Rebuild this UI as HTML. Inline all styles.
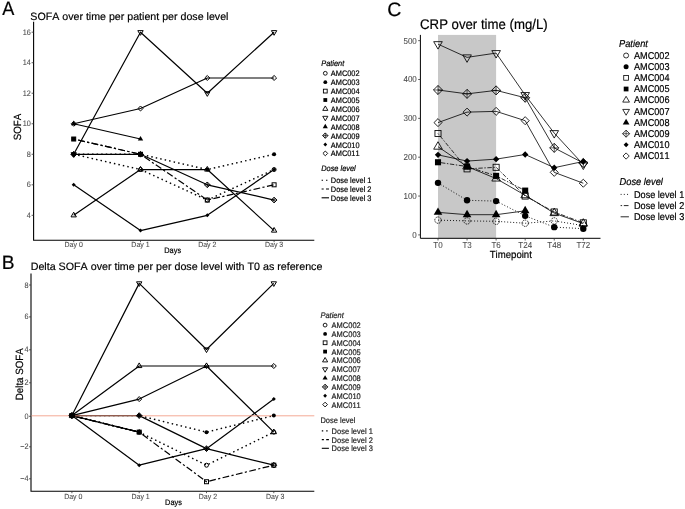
<!DOCTYPE html><html><head><meta charset="utf-8"><style>html,body{margin:0;padding:0;background:#fff;overflow:hidden}svg{display:block;will-change:transform}text{font-family:"Liberation Sans", sans-serif;font-kerning:none;text-rendering:geometricPrecision;stroke:currentColor;stroke-width:0.18px}</style></head><body>
<svg width="685" height="509" viewBox="0 0 685 509">
<rect width="685" height="509" fill="#fff"/>
<text transform="translate(2.3 14.6) scale(1 1.07)" font-size="18.1" text-anchor="start" fill="#000" color="#000">A</text>
<text transform="translate(30.3 19.7)" font-size="10.65" text-anchor="start" fill="#000" color="#000">SOFA over time per patient per dose level</text>
<path d="M33.6 21.7V240.2H314.3" fill="none" stroke="#000" stroke-width="1.1"/>
<line x1="31.6" y1="215.32" x2="33.6" y2="215.32" stroke="#333" stroke-width="0.8" stroke-linecap="butt"/>
<text transform="translate(30.8 217.82) scale(1 1.08)" font-size="7.3" text-anchor="end" fill="#4d4d4d" color="#4d4d4d" style="stroke-width:0.08px">4</text>
<line x1="31.6" y1="184.8" x2="33.6" y2="184.8" stroke="#333" stroke-width="0.8" stroke-linecap="butt"/>
<text transform="translate(30.8 187.3) scale(1 1.08)" font-size="7.3" text-anchor="end" fill="#4d4d4d" color="#4d4d4d" style="stroke-width:0.08px">6</text>
<line x1="31.6" y1="154.28" x2="33.6" y2="154.28" stroke="#333" stroke-width="0.8" stroke-linecap="butt"/>
<text transform="translate(30.8 156.78) scale(1 1.08)" font-size="7.3" text-anchor="end" fill="#4d4d4d" color="#4d4d4d" style="stroke-width:0.08px">8</text>
<line x1="31.6" y1="123.76" x2="33.6" y2="123.76" stroke="#333" stroke-width="0.8" stroke-linecap="butt"/>
<text transform="translate(30.8 126.26) scale(1 1.08)" font-size="7.3" text-anchor="end" fill="#4d4d4d" color="#4d4d4d" style="stroke-width:0.08px">10</text>
<line x1="31.6" y1="93.24" x2="33.6" y2="93.24" stroke="#333" stroke-width="0.8" stroke-linecap="butt"/>
<text transform="translate(30.8 95.74) scale(1 1.08)" font-size="7.3" text-anchor="end" fill="#4d4d4d" color="#4d4d4d" style="stroke-width:0.08px">12</text>
<line x1="31.6" y1="62.72" x2="33.6" y2="62.72" stroke="#333" stroke-width="0.8" stroke-linecap="butt"/>
<text transform="translate(30.8 65.22) scale(1 1.08)" font-size="7.3" text-anchor="end" fill="#4d4d4d" color="#4d4d4d" style="stroke-width:0.08px">14</text>
<line x1="31.6" y1="32.2" x2="33.6" y2="32.2" stroke="#333" stroke-width="0.8" stroke-linecap="butt"/>
<text transform="translate(30.8 34.7) scale(1 1.08)" font-size="7.3" text-anchor="end" fill="#4d4d4d" color="#4d4d4d" style="stroke-width:0.08px">16</text>
<line x1="73.7" y1="240.2" x2="73.7" y2="242.2" stroke="#333" stroke-width="0.8" stroke-linecap="butt"/>
<text transform="translate(73.7 247.3) scale(1 1.08)" font-size="7" text-anchor="middle" fill="#4d4d4d" color="#4d4d4d" style="stroke-width:0.08px">Day 0</text>
<line x1="140.5" y1="240.2" x2="140.5" y2="242.2" stroke="#333" stroke-width="0.8" stroke-linecap="butt"/>
<text transform="translate(140.5 247.3) scale(1 1.08)" font-size="7" text-anchor="middle" fill="#4d4d4d" color="#4d4d4d" style="stroke-width:0.08px">Day 1</text>
<line x1="207.3" y1="240.2" x2="207.3" y2="242.2" stroke="#333" stroke-width="0.8" stroke-linecap="butt"/>
<text transform="translate(207.3 247.3) scale(1 1.08)" font-size="7" text-anchor="middle" fill="#4d4d4d" color="#4d4d4d" style="stroke-width:0.08px">Day 2</text>
<line x1="274.1" y1="240.2" x2="274.1" y2="242.2" stroke="#333" stroke-width="0.8" stroke-linecap="butt"/>
<text transform="translate(274.1 247.3) scale(1 1.08)" font-size="7" text-anchor="middle" fill="#4d4d4d" color="#4d4d4d" style="stroke-width:0.08px">Day 3</text>
<text transform="translate(172.7 252.9) scale(1 1.08)" font-size="7.4" text-anchor="middle" fill="#000" color="#000">Days</text>
<text transform="translate(21 127.1) rotate(-90) scale(1 1.08)" font-size="9.7" text-anchor="middle" fill="#000" color="#000">SOFA</text>
<polyline points="73.7,154.28 140.5,169.54 207.3,200.06 274.1,169.54" fill="none" stroke="#000" stroke-width="1.44" stroke-linejoin="round" stroke-dasharray="1.49 3.09"/>
<polyline points="73.7,154.28 140.5,154.28 207.3,169.54 274.1,154.28" fill="none" stroke="#000" stroke-width="1.44" stroke-linejoin="round" stroke-dasharray="1.49 3.09"/>
<polyline points="73.7,139.02 140.5,154.28 207.3,200.06 274.1,184.8" fill="none" stroke="#000" stroke-width="1.2" stroke-linejoin="round" stroke-dasharray="2.18 2.4 6.76 2.4"/>
<polyline points="73.7,139.02 140.5,154.28" fill="none" stroke="#000" stroke-width="1.2" stroke-linejoin="round" stroke-dasharray="2.18 2.4 6.76 2.4"/>
<polyline points="73.7,215.32 140.5,169.54 207.3,169.54 274.1,230.58" fill="none" stroke="#000" stroke-width="1.2" stroke-linejoin="round"/>
<polyline points="73.7,154.28 140.5,32.2 207.3,93.24 274.1,32.2" fill="none" stroke="#000" stroke-width="1.2" stroke-linejoin="round"/>
<polyline points="73.7,123.76 140.5,139.02" fill="none" stroke="#000" stroke-width="1.2" stroke-linejoin="round"/>
<polyline points="73.7,154.28 140.5,154.28 207.3,184.8 274.1,200.06" fill="none" stroke="#000" stroke-width="1.2" stroke-linejoin="round"/>
<polyline points="73.7,184.8 140.5,230.58 207.3,215.32 274.1,169.54" fill="none" stroke="#000" stroke-width="1.2" stroke-linejoin="round"/>
<polyline points="73.7,123.76 140.5,108.5 207.3,77.98 274.1,77.98" fill="none" stroke="#000" stroke-width="1.2" stroke-linejoin="round"/>
<circle cx="73.7" cy="154.28" r="2" fill="none" stroke="#000" stroke-width="1"/>
<circle cx="140.5" cy="169.54" r="2" fill="none" stroke="#000" stroke-width="1"/>
<circle cx="207.3" cy="200.06" r="2" fill="none" stroke="#000" stroke-width="1"/>
<circle cx="274.1" cy="169.54" r="2" fill="none" stroke="#000" stroke-width="1"/>
<circle cx="73.7" cy="154.28" r="2" fill="#000"/>
<circle cx="140.5" cy="154.28" r="2" fill="#000"/>
<circle cx="207.3" cy="169.54" r="2" fill="#000"/>
<circle cx="274.1" cy="154.28" r="2" fill="#000"/>
<rect x="71.7" y="137.02" width="4" height="4" fill="none" stroke="#000" stroke-width="1"/>
<rect x="138.5" y="152.28" width="4" height="4" fill="none" stroke="#000" stroke-width="1"/>
<rect x="205.3" y="198.06" width="4" height="4" fill="none" stroke="#000" stroke-width="1"/>
<rect x="272.1" y="182.8" width="4" height="4" fill="none" stroke="#000" stroke-width="1"/>
<rect x="71.7" y="137.02" width="4" height="4" fill="#000"/>
<rect x="138.5" y="152.28" width="4" height="4" fill="#000"/>
<polygon points="73.7,212.21 76.39,216.88 71.01,216.88" fill="none" stroke="#000" stroke-width="1" stroke-linejoin="miter"/>
<polygon points="140.5,166.43 143.19,171.1 137.81,171.1" fill="none" stroke="#000" stroke-width="1" stroke-linejoin="miter"/>
<polygon points="207.3,166.43 209.99,171.1 204.61,171.1" fill="none" stroke="#000" stroke-width="1" stroke-linejoin="miter"/>
<polygon points="274.1,227.47 276.79,232.14 271.41,232.14" fill="none" stroke="#000" stroke-width="1" stroke-linejoin="miter"/>
<polygon points="73.7,157.39 76.39,152.72 71.01,152.72" fill="none" stroke="#000" stroke-width="1" stroke-linejoin="miter"/>
<polygon points="140.5,35.31 143.19,30.64 137.81,30.64" fill="none" stroke="#000" stroke-width="1" stroke-linejoin="miter"/>
<polygon points="207.3,96.35 209.99,91.68 204.61,91.68" fill="none" stroke="#000" stroke-width="1" stroke-linejoin="miter"/>
<polygon points="274.1,35.31 276.79,30.64 271.41,30.64" fill="none" stroke="#000" stroke-width="1" stroke-linejoin="miter"/>
<polygon points="73.7,120.65 76.39,125.32 71.01,125.32" fill="#000"/>
<polygon points="140.5,135.91 143.19,140.58 137.81,140.58" fill="#000"/>
<polygon points="73.7,151.45 76.53,154.28 73.7,157.11 70.87,154.28" fill="none" stroke="#000" stroke-width="1"/>
<path d="M73.7 151.45V157.11M70.87 154.28H76.53" stroke="#000" stroke-width="0.75" fill="none"/>
<polygon points="140.5,151.45 143.33,154.28 140.5,157.11 137.67,154.28" fill="none" stroke="#000" stroke-width="1"/>
<path d="M140.5 151.45V157.11M137.67 154.28H143.33" stroke="#000" stroke-width="0.75" fill="none"/>
<polygon points="207.3,181.97 210.13,184.8 207.3,187.63 204.47,184.8" fill="none" stroke="#000" stroke-width="1"/>
<path d="M207.3 181.97V187.63M204.47 184.8H210.13" stroke="#000" stroke-width="0.75" fill="none"/>
<polygon points="274.1,197.23 276.93,200.06 274.1,202.89 271.27,200.06" fill="none" stroke="#000" stroke-width="1"/>
<path d="M274.1 197.23V202.89M271.27 200.06H276.93" stroke="#000" stroke-width="0.75" fill="none"/>
<polygon points="73.7,182.8 75.7,184.8 73.7,186.8 71.7,184.8" fill="#000"/>
<polygon points="140.5,228.58 142.5,230.58 140.5,232.58 138.5,230.58" fill="#000"/>
<polygon points="207.3,213.32 209.3,215.32 207.3,217.32 205.3,215.32" fill="#000"/>
<polygon points="274.1,167.54 276.1,169.54 274.1,171.54 272.1,169.54" fill="#000"/>
<polygon points="73.7,121.25 76.21,123.76 73.7,126.27 71.19,123.76" fill="none" stroke="#000" stroke-width="1"/>
<polygon points="140.5,105.99 143.01,108.5 140.5,111.01 137.99,108.5" fill="none" stroke="#000" stroke-width="1"/>
<polygon points="207.3,75.47 209.81,77.98 207.3,80.49 204.79,77.98" fill="none" stroke="#000" stroke-width="1"/>
<polygon points="274.1,75.47 276.61,77.98 274.1,80.49 271.59,77.98" fill="none" stroke="#000" stroke-width="1"/>
<text transform="translate(321.2 65.7) scale(1 1.08)" font-size="7.4" text-anchor="start" fill="#000" color="#000" font-style="italic">Patient</text>
<circle cx="325.3" cy="73.3" r="1.9" fill="none" stroke="#000" stroke-width="0.9"/>
<text transform="translate(330.8 76.39) scale(1 1.08)" font-size="7.4" text-anchor="start" fill="#000" color="#000">AMC002</text>
<circle cx="325.3" cy="82.2" r="1.9" fill="#000"/>
<text transform="translate(330.8 85.29) scale(1 1.08)" font-size="7.4" text-anchor="start" fill="#000" color="#000">AMC003</text>
<rect x="323.4" y="89.2" width="3.8" height="3.8" fill="none" stroke="#000" stroke-width="0.9"/>
<text transform="translate(330.8 94.19) scale(1 1.08)" font-size="7.4" text-anchor="start" fill="#000" color="#000">AMC004</text>
<rect x="323.4" y="98.1" width="3.8" height="3.8" fill="#000"/>
<text transform="translate(330.8 103.09) scale(1 1.08)" font-size="7.4" text-anchor="start" fill="#000" color="#000">AMC005</text>
<polygon points="325.3,105.95 327.86,110.38 322.74,110.38" fill="none" stroke="#000" stroke-width="0.9" stroke-linejoin="miter"/>
<text transform="translate(330.8 111.99) scale(1 1.08)" font-size="7.4" text-anchor="start" fill="#000" color="#000">AMC006</text>
<polygon points="325.3,120.75 327.86,116.32 322.74,116.32" fill="none" stroke="#000" stroke-width="0.9" stroke-linejoin="miter"/>
<text transform="translate(330.8 120.89) scale(1 1.08)" font-size="7.4" text-anchor="start" fill="#000" color="#000">AMC007</text>
<polygon points="325.3,123.75 327.86,128.18 322.74,128.18" fill="#000"/>
<text transform="translate(330.8 129.79) scale(1 1.08)" font-size="7.4" text-anchor="start" fill="#000" color="#000">AMC008</text>
<polygon points="325.3,132.91 327.99,135.6 325.3,138.29 322.61,135.6" fill="none" stroke="#000" stroke-width="0.9"/>
<path d="M325.3 132.91V138.29M322.61 135.6H327.99" stroke="#000" stroke-width="0.68" fill="none"/>
<text transform="translate(330.8 138.69) scale(1 1.08)" font-size="7.4" text-anchor="start" fill="#000" color="#000">AMC009</text>
<polygon points="325.3,142.6 327.2,144.5 325.3,146.4 323.4,144.5" fill="#000"/>
<text transform="translate(330.8 147.59) scale(1 1.08)" font-size="7.4" text-anchor="start" fill="#000" color="#000">AMC010</text>
<polygon points="325.3,151.02 327.68,153.4 325.3,155.78 322.92,153.4" fill="none" stroke="#000" stroke-width="0.9"/>
<text transform="translate(330.8 156.49) scale(1 1.08)" font-size="7.4" text-anchor="start" fill="#000" color="#000">AMC011</text>
<text transform="translate(321.2 171.3) scale(1 1.08)" font-size="7.4" text-anchor="start" fill="#000" color="#000" font-style="italic">Dose level</text>
<line x1="321.6" y1="180.3" x2="329" y2="180.3" stroke="#000" stroke-width="1.1" stroke-linecap="butt" stroke-dasharray="1.43 2.97"/>
<text transform="translate(330.8 183.39) scale(1 1.08)" font-size="7.4" text-anchor="start" fill="#000" color="#000">Dose level 1</text>
<line x1="321.6" y1="189.05" x2="329" y2="189.05" stroke="#000" stroke-width="1.1" stroke-linecap="butt" stroke-dasharray="2.09 2.31 6.49 2.31"/>
<text transform="translate(330.8 192.14) scale(1 1.08)" font-size="7.4" text-anchor="start" fill="#000" color="#000">Dose level 2</text>
<line x1="321.6" y1="197.8" x2="329" y2="197.8" stroke="#000" stroke-width="1.1" stroke-linecap="butt"/>
<text transform="translate(330.8 200.89) scale(1 1.08)" font-size="7.4" text-anchor="start" fill="#000" color="#000">Dose level 3</text>
<text transform="translate(1.7 268.6) scale(1 1.01)" font-size="19.2" text-anchor="start" fill="#000" color="#000">B</text>
<text transform="translate(30.7 269.7)" font-size="10.7" text-anchor="start" fill="#000" color="#000">Delta SOFA over time per per dose level with T0 as reference</text>
<path d="M31 273.5V491.2H314.3" fill="none" stroke="#000" stroke-width="1.1"/>
<line x1="29" y1="478.8" x2="31" y2="478.8" stroke="#333" stroke-width="0.8" stroke-linecap="butt"/>
<text transform="translate(28.5 481.3) scale(1 1.08)" font-size="7.3" text-anchor="end" fill="#4d4d4d" color="#4d4d4d" style="stroke-width:0.08px">−4</text>
<line x1="29" y1="446.8" x2="31" y2="446.8" stroke="#333" stroke-width="0.8" stroke-linecap="butt"/>
<text transform="translate(28.5 449.3) scale(1 1.08)" font-size="7.3" text-anchor="end" fill="#4d4d4d" color="#4d4d4d" style="stroke-width:0.08px">−2</text>
<line x1="29" y1="416.3" x2="31" y2="416.3" stroke="#333" stroke-width="0.8" stroke-linecap="butt"/>
<text transform="translate(28.5 418.8) scale(1 1.08)" font-size="7.3" text-anchor="end" fill="#4d4d4d" color="#4d4d4d" style="stroke-width:0.08px">0</text>
<line x1="29" y1="382.8" x2="31" y2="382.8" stroke="#333" stroke-width="0.8" stroke-linecap="butt"/>
<text transform="translate(28.5 385.3) scale(1 1.08)" font-size="7.3" text-anchor="end" fill="#4d4d4d" color="#4d4d4d" style="stroke-width:0.08px">2</text>
<line x1="29" y1="349.8" x2="31" y2="349.8" stroke="#333" stroke-width="0.8" stroke-linecap="butt"/>
<text transform="translate(28.5 352.3) scale(1 1.08)" font-size="7.3" text-anchor="end" fill="#4d4d4d" color="#4d4d4d" style="stroke-width:0.08px">4</text>
<line x1="29" y1="316.9" x2="31" y2="316.9" stroke="#333" stroke-width="0.8" stroke-linecap="butt"/>
<text transform="translate(28.5 319.4) scale(1 1.08)" font-size="7.3" text-anchor="end" fill="#4d4d4d" color="#4d4d4d" style="stroke-width:0.08px">6</text>
<line x1="29" y1="285" x2="31" y2="285" stroke="#333" stroke-width="0.8" stroke-linecap="butt"/>
<text transform="translate(28.5 287.5) scale(1 1.08)" font-size="7.3" text-anchor="end" fill="#4d4d4d" color="#4d4d4d" style="stroke-width:0.08px">8</text>
<line x1="71.9" y1="491.2" x2="71.9" y2="493.2" stroke="#333" stroke-width="0.8" stroke-linecap="butt"/>
<text transform="translate(73.3 498.8) scale(1 1.08)" font-size="7" text-anchor="middle" fill="#4d4d4d" color="#4d4d4d" style="stroke-width:0.08px">Day 0</text>
<line x1="139.2" y1="491.2" x2="139.2" y2="493.2" stroke="#333" stroke-width="0.8" stroke-linecap="butt"/>
<text transform="translate(140.6 498.8) scale(1 1.08)" font-size="7" text-anchor="middle" fill="#4d4d4d" color="#4d4d4d" style="stroke-width:0.08px">Day 1</text>
<line x1="206.5" y1="491.2" x2="206.5" y2="493.2" stroke="#333" stroke-width="0.8" stroke-linecap="butt"/>
<text transform="translate(207.9 498.8) scale(1 1.08)" font-size="7" text-anchor="middle" fill="#4d4d4d" color="#4d4d4d" style="stroke-width:0.08px">Day 2</text>
<line x1="273.8" y1="491.2" x2="273.8" y2="493.2" stroke="#333" stroke-width="0.8" stroke-linecap="butt"/>
<text transform="translate(275.2 498.8) scale(1 1.08)" font-size="7" text-anchor="middle" fill="#4d4d4d" color="#4d4d4d" style="stroke-width:0.08px">Day 3</text>
<text transform="translate(173.5 505) scale(1 1.08)" font-size="7.4" text-anchor="middle" fill="#000" color="#000">Days</text>
<text transform="translate(23 374.2) rotate(-90) scale(1 1.08)" font-size="9.75" text-anchor="middle" fill="#000" color="#000">Delta SOFA</text>
<polyline points="71.9,415.6 139.2,432.13 206.5,465.19 273.8,432.13" fill="none" stroke="#000" stroke-width="1.44" stroke-linejoin="round" stroke-dasharray="1.49 3.09"/>
<polyline points="71.9,415.6 139.2,415.6 206.5,432.13 273.8,415.6" fill="none" stroke="#000" stroke-width="1.44" stroke-linejoin="round" stroke-dasharray="1.49 3.09"/>
<polyline points="71.9,415.6 139.2,432.13 206.5,481.72 273.8,465.19" fill="none" stroke="#000" stroke-width="1.2" stroke-linejoin="round" stroke-dasharray="2.18 2.4 6.76 2.4"/>
<polyline points="71.9,415.6 139.2,432.13" fill="none" stroke="#000" stroke-width="1.2" stroke-linejoin="round" stroke-dasharray="2.18 2.4 6.76 2.4"/>
<polyline points="71.9,415.6 139.2,366.01 206.5,366.01 273.8,432.13" fill="none" stroke="#000" stroke-width="1.2" stroke-linejoin="round"/>
<polyline points="71.9,415.6 139.2,283.36 206.5,349.48 273.8,283.36" fill="none" stroke="#000" stroke-width="1.2" stroke-linejoin="round"/>
<polyline points="71.9,415.6 139.2,432.13" fill="none" stroke="#000" stroke-width="1.2" stroke-linejoin="round"/>
<polyline points="71.9,415.6 139.2,415.6 206.5,448.66 273.8,465.19" fill="none" stroke="#000" stroke-width="1.2" stroke-linejoin="round"/>
<polyline points="71.9,415.6 139.2,465.19 206.5,448.66 273.8,399.07" fill="none" stroke="#000" stroke-width="1.2" stroke-linejoin="round"/>
<polyline points="71.9,415.6 139.2,399.07 206.5,366.01 273.8,366.01" fill="none" stroke="#000" stroke-width="1.2" stroke-linejoin="round"/>
<line x1="31.5" y1="415.8" x2="314.3" y2="415.8" stroke="#f39c85" stroke-width="0.95" opacity="0.9"/>
<circle cx="71.9" cy="415.6" r="2" fill="none" stroke="#000" stroke-width="1"/>
<circle cx="139.2" cy="432.13" r="2" fill="none" stroke="#000" stroke-width="1"/>
<circle cx="206.5" cy="465.19" r="2" fill="none" stroke="#000" stroke-width="1"/>
<circle cx="273.8" cy="432.13" r="2" fill="none" stroke="#000" stroke-width="1"/>
<circle cx="71.9" cy="415.6" r="2" fill="#000"/>
<circle cx="139.2" cy="415.6" r="2" fill="#000"/>
<circle cx="206.5" cy="432.13" r="2" fill="#000"/>
<circle cx="273.8" cy="415.6" r="2" fill="#000"/>
<rect x="69.9" y="413.6" width="4" height="4" fill="none" stroke="#000" stroke-width="1"/>
<rect x="137.2" y="430.13" width="4" height="4" fill="none" stroke="#000" stroke-width="1"/>
<rect x="204.5" y="479.72" width="4" height="4" fill="none" stroke="#000" stroke-width="1"/>
<rect x="271.8" y="463.19" width="4" height="4" fill="none" stroke="#000" stroke-width="1"/>
<rect x="69.9" y="413.6" width="4" height="4" fill="#000"/>
<rect x="137.2" y="430.13" width="4" height="4" fill="#000"/>
<polygon points="71.9,412.49 74.59,417.16 69.21,417.16" fill="none" stroke="#000" stroke-width="1" stroke-linejoin="miter"/>
<polygon points="139.2,362.9 141.89,367.57 136.51,367.57" fill="none" stroke="#000" stroke-width="1" stroke-linejoin="miter"/>
<polygon points="206.5,362.9 209.19,367.57 203.81,367.57" fill="none" stroke="#000" stroke-width="1" stroke-linejoin="miter"/>
<polygon points="273.8,429.02 276.49,433.69 271.11,433.69" fill="none" stroke="#000" stroke-width="1" stroke-linejoin="miter"/>
<polygon points="71.9,418.71 74.59,414.04 69.21,414.04" fill="none" stroke="#000" stroke-width="1" stroke-linejoin="miter"/>
<polygon points="139.2,286.47 141.89,281.8 136.51,281.8" fill="none" stroke="#000" stroke-width="1" stroke-linejoin="miter"/>
<polygon points="206.5,352.59 209.19,347.92 203.81,347.92" fill="none" stroke="#000" stroke-width="1" stroke-linejoin="miter"/>
<polygon points="273.8,286.47 276.49,281.8 271.11,281.8" fill="none" stroke="#000" stroke-width="1" stroke-linejoin="miter"/>
<polygon points="71.9,412.49 74.59,417.16 69.21,417.16" fill="#000"/>
<polygon points="139.2,429.02 141.89,433.69 136.51,433.69" fill="#000"/>
<polygon points="71.9,412.77 74.73,415.6 71.9,418.43 69.07,415.6" fill="none" stroke="#000" stroke-width="1"/>
<path d="M71.9 412.77V418.43M69.07 415.6H74.73" stroke="#000" stroke-width="0.75" fill="none"/>
<polygon points="139.2,412.77 142.03,415.6 139.2,418.43 136.37,415.6" fill="none" stroke="#000" stroke-width="1"/>
<path d="M139.2 412.77V418.43M136.37 415.6H142.03" stroke="#000" stroke-width="0.75" fill="none"/>
<polygon points="206.5,445.83 209.33,448.66 206.5,451.49 203.67,448.66" fill="none" stroke="#000" stroke-width="1"/>
<path d="M206.5 445.83V451.49M203.67 448.66H209.33" stroke="#000" stroke-width="0.75" fill="none"/>
<polygon points="273.8,462.36 276.63,465.19 273.8,468.02 270.97,465.19" fill="none" stroke="#000" stroke-width="1"/>
<path d="M273.8 462.36V468.02M270.97 465.19H276.63" stroke="#000" stroke-width="0.75" fill="none"/>
<polygon points="71.9,413.6 73.9,415.6 71.9,417.6 69.9,415.6" fill="#000"/>
<polygon points="139.2,463.19 141.2,465.19 139.2,467.19 137.2,465.19" fill="#000"/>
<polygon points="206.5,446.66 208.5,448.66 206.5,450.66 204.5,448.66" fill="#000"/>
<polygon points="273.8,397.07 275.8,399.07 273.8,401.07 271.8,399.07" fill="#000"/>
<polygon points="71.9,413.09 74.41,415.6 71.9,418.11 69.39,415.6" fill="none" stroke="#000" stroke-width="1"/>
<polygon points="139.2,396.56 141.71,399.07 139.2,401.58 136.69,399.07" fill="none" stroke="#000" stroke-width="1"/>
<polygon points="206.5,363.5 209.01,366.01 206.5,368.52 203.99,366.01" fill="none" stroke="#000" stroke-width="1"/>
<polygon points="273.8,363.5 276.31,366.01 273.8,368.52 271.29,366.01" fill="none" stroke="#000" stroke-width="1"/>
<text transform="translate(320.4 318.2) scale(1 1.08)" font-size="7.5" text-anchor="start" fill="#222" color="#222" font-style="italic">Patient</text>
<circle cx="325.1" cy="325.1" r="1.9" fill="none" stroke="#000" stroke-width="0.9"/>
<text transform="translate(331.6 328.12) scale(1 1.08)" font-size="7.5" text-anchor="start" fill="#222" color="#222">AMC002</text>
<circle cx="325.1" cy="333.93" r="1.9" fill="#000"/>
<text transform="translate(331.6 336.95) scale(1 1.08)" font-size="7.5" text-anchor="start" fill="#222" color="#222">AMC003</text>
<rect x="323.2" y="340.86" width="3.8" height="3.8" fill="none" stroke="#000" stroke-width="0.9"/>
<text transform="translate(331.6 345.79) scale(1 1.08)" font-size="7.5" text-anchor="start" fill="#222" color="#222">AMC004</text>
<rect x="323.2" y="349.69" width="3.8" height="3.8" fill="#000"/>
<text transform="translate(331.6 354.62) scale(1 1.08)" font-size="7.5" text-anchor="start" fill="#222" color="#222">AMC005</text>
<polygon points="325.1,357.47 327.66,361.9 322.54,361.9" fill="none" stroke="#000" stroke-width="0.9" stroke-linejoin="miter"/>
<text transform="translate(331.6 363.44) scale(1 1.08)" font-size="7.5" text-anchor="start" fill="#222" color="#222">AMC006</text>
<polygon points="325.1,372.2 327.66,367.77 322.54,367.77" fill="none" stroke="#000" stroke-width="0.9" stroke-linejoin="miter"/>
<text transform="translate(331.6 372.27) scale(1 1.08)" font-size="7.5" text-anchor="start" fill="#222" color="#222">AMC007</text>
<polygon points="325.1,375.13 327.66,379.56 322.54,379.56" fill="#000"/>
<text transform="translate(331.6 381.11) scale(1 1.08)" font-size="7.5" text-anchor="start" fill="#222" color="#222">AMC008</text>
<polygon points="325.1,384.22 327.79,386.91 325.1,389.6 322.41,386.91" fill="none" stroke="#000" stroke-width="0.9"/>
<path d="M325.1 384.22V389.6M322.41 386.91H327.79" stroke="#000" stroke-width="0.68" fill="none"/>
<text transform="translate(331.6 389.94) scale(1 1.08)" font-size="7.5" text-anchor="start" fill="#222" color="#222">AMC009</text>
<polygon points="325.1,393.84 327,395.74 325.1,397.64 323.2,395.74" fill="#000"/>
<text transform="translate(331.6 398.76) scale(1 1.08)" font-size="7.5" text-anchor="start" fill="#222" color="#222">AMC010</text>
<polygon points="325.1,402.19 327.48,404.57 325.1,406.95 322.72,404.57" fill="none" stroke="#000" stroke-width="0.9"/>
<text transform="translate(331.6 407.6) scale(1 1.08)" font-size="7.5" text-anchor="start" fill="#222" color="#222">AMC011</text>
<text transform="translate(320.4 422.6) scale(1 1.08)" font-size="7.5" text-anchor="start" fill="#222" color="#222">Dose level</text>
<line x1="321.8" y1="430.9" x2="328.9" y2="430.9" stroke="#000" stroke-width="1.1" stroke-linecap="butt" stroke-dasharray="1.43 2.97"/>
<text transform="translate(331.6 433.92) scale(1 1.08)" font-size="7.5" text-anchor="start" fill="#222" color="#222">Dose level 1</text>
<line x1="321.8" y1="439.6" x2="328.9" y2="439.6" stroke="#000" stroke-width="1.1" stroke-linecap="butt" stroke-dasharray="2.09 2.31 6.49 2.31"/>
<text transform="translate(331.6 442.62) scale(1 1.08)" font-size="7.5" text-anchor="start" fill="#222" color="#222">Dose level 2</text>
<line x1="321.8" y1="448.3" x2="328.9" y2="448.3" stroke="#000" stroke-width="1.1" stroke-linecap="butt"/>
<text transform="translate(331.6 451.32) scale(1 1.08)" font-size="7.5" text-anchor="start" fill="#222" color="#222">Dose level 3</text>
<text transform="translate(387.3 16.1)" font-size="19.5" text-anchor="start" fill="#000" color="#000">C</text>
<text transform="translate(420.1 28.6) scale(1 1.06)" font-size="13.2" text-anchor="start" fill="#000" color="#000">CRP over time (mg/L)</text>
<rect x="438" y="34.9" width="58.12" height="203.4" fill="#c8c8c8"/>
<path d="M420.4 34.9V238.3H600.5" fill="none" stroke="#000" stroke-width="1"/>
<line x1="418.2" y1="234.9" x2="420.4" y2="234.9" stroke="#333" stroke-width="0.8" stroke-linecap="butt"/>
<text transform="translate(416.8 237.8) scale(1 1.08)" font-size="8" text-anchor="end" fill="#4d4d4d" color="#4d4d4d" style="stroke-width:0.08px">0</text>
<line x1="418.2" y1="196.05" x2="420.4" y2="196.05" stroke="#333" stroke-width="0.8" stroke-linecap="butt"/>
<text transform="translate(416.8 198.95) scale(1 1.08)" font-size="8" text-anchor="end" fill="#4d4d4d" color="#4d4d4d" style="stroke-width:0.08px">100</text>
<line x1="418.2" y1="157.2" x2="420.4" y2="157.2" stroke="#333" stroke-width="0.8" stroke-linecap="butt"/>
<text transform="translate(416.8 160.1) scale(1 1.08)" font-size="8" text-anchor="end" fill="#4d4d4d" color="#4d4d4d" style="stroke-width:0.08px">200</text>
<line x1="418.2" y1="118.35" x2="420.4" y2="118.35" stroke="#333" stroke-width="0.8" stroke-linecap="butt"/>
<text transform="translate(416.8 121.25) scale(1 1.08)" font-size="8" text-anchor="end" fill="#4d4d4d" color="#4d4d4d" style="stroke-width:0.08px">300</text>
<line x1="418.2" y1="79.5" x2="420.4" y2="79.5" stroke="#333" stroke-width="0.8" stroke-linecap="butt"/>
<text transform="translate(416.8 82.4) scale(1 1.08)" font-size="8" text-anchor="end" fill="#4d4d4d" color="#4d4d4d" style="stroke-width:0.08px">400</text>
<line x1="418.2" y1="40.65" x2="420.4" y2="40.65" stroke="#333" stroke-width="0.8" stroke-linecap="butt"/>
<text transform="translate(416.8 43.55) scale(1 1.08)" font-size="8" text-anchor="end" fill="#4d4d4d" color="#4d4d4d" style="stroke-width:0.08px">500</text>
<line x1="438" y1="238.3" x2="438" y2="240.5" stroke="#333" stroke-width="0.8" stroke-linecap="butt"/>
<text transform="translate(438 247.8) scale(1 1.08)" font-size="8" text-anchor="middle" fill="#4d4d4d" color="#4d4d4d" style="stroke-width:0.08px">T0</text>
<line x1="467.06" y1="238.3" x2="467.06" y2="240.5" stroke="#333" stroke-width="0.8" stroke-linecap="butt"/>
<text transform="translate(467.06 247.8) scale(1 1.08)" font-size="8" text-anchor="middle" fill="#4d4d4d" color="#4d4d4d" style="stroke-width:0.08px">T3</text>
<line x1="496.12" y1="238.3" x2="496.12" y2="240.5" stroke="#333" stroke-width="0.8" stroke-linecap="butt"/>
<text transform="translate(496.12 247.8) scale(1 1.08)" font-size="8" text-anchor="middle" fill="#4d4d4d" color="#4d4d4d" style="stroke-width:0.08px">T6</text>
<line x1="525.18" y1="238.3" x2="525.18" y2="240.5" stroke="#333" stroke-width="0.8" stroke-linecap="butt"/>
<text transform="translate(525.18 247.8) scale(1 1.08)" font-size="8" text-anchor="middle" fill="#4d4d4d" color="#4d4d4d" style="stroke-width:0.08px">T24</text>
<line x1="554.24" y1="238.3" x2="554.24" y2="240.5" stroke="#333" stroke-width="0.8" stroke-linecap="butt"/>
<text transform="translate(554.24 247.8) scale(1 1.08)" font-size="8" text-anchor="middle" fill="#4d4d4d" color="#4d4d4d" style="stroke-width:0.08px">T48</text>
<line x1="583.3" y1="238.3" x2="583.3" y2="240.5" stroke="#333" stroke-width="0.8" stroke-linecap="butt"/>
<text transform="translate(583.3 247.8) scale(1 1.08)" font-size="8" text-anchor="middle" fill="#4d4d4d" color="#4d4d4d" style="stroke-width:0.08px">T72</text>
<text transform="translate(510.8 258.4) scale(1 1.08)" font-size="9.6" text-anchor="middle" fill="#000" color="#000">Timepoint</text>
<polyline points="438,220.14 467.06,220.91 496.12,221.3 525.18,223.25 554.24,220.91 583.3,225.58" fill="none" stroke="#000" stroke-width="0.9" stroke-linejoin="round" stroke-dasharray="0.98 2.03"/>
<polyline points="438,182.84 467.06,200.32 496.12,201.1 525.18,215.86 554.24,227.13 583.3,228.68" fill="none" stroke="#000" stroke-width="0.9" stroke-linejoin="round" stroke-dasharray="0.98 2.03"/>
<polyline points="438,133.5 467.06,168.86 496.12,167.3 525.18,196.05 554.24,211.98 583.3,222.86" fill="none" stroke="#000" stroke-width="0.8" stroke-linejoin="round" stroke-dasharray="1.42 1.58 4.43 1.58"/>
<polyline points="438,162.25 467.06,166.52 496.12,175.85 525.18,190.61" fill="none" stroke="#000" stroke-width="0.8" stroke-linejoin="round" stroke-dasharray="1.42 1.58 4.43 1.58"/>
<polyline points="438,146.71 467.06,166.52 496.12,178.57 525.18,195.27 554.24,213.14 583.3,223.63" fill="none" stroke="#000" stroke-width="0.8" stroke-linejoin="round"/>
<polyline points="438,44.15 467.06,57.36 496.12,53.08 525.18,95.04 554.24,133.11 583.3,164.58" fill="none" stroke="#000" stroke-width="0.8" stroke-linejoin="round"/>
<polyline points="438,212.37 467.06,214.7 496.12,214.7 525.18,210.81" fill="none" stroke="#000" stroke-width="0.8" stroke-linejoin="round"/>
<polyline points="438,89.99 467.06,93.87 496.12,90.38 525.18,97.76 554.24,147.88 583.3,163.03" fill="none" stroke="#000" stroke-width="0.8" stroke-linejoin="round"/>
<polyline points="438,154.87 467.06,161.09 496.12,159.14 525.18,154.48 554.24,167.69 583.3,161.47" fill="none" stroke="#000" stroke-width="0.8" stroke-linejoin="round"/>
<polyline points="438,122.62 467.06,112.13 496.12,111.36 525.18,120.68 554.24,172.35 583.3,183.23" fill="none" stroke="#000" stroke-width="0.8" stroke-linejoin="round"/>
<circle cx="438" cy="220.14" r="3.2" fill="none" stroke="#000" stroke-width="0.85" stroke-dasharray="1.5 0.85"/>
<circle cx="467.06" cy="220.91" r="3.2" fill="none" stroke="#000" stroke-width="0.85" stroke-dasharray="1.5 0.85"/>
<circle cx="496.12" cy="221.3" r="3.2" fill="none" stroke="#000" stroke-width="0.85" stroke-dasharray="1.5 0.85"/>
<circle cx="525.18" cy="223.25" r="3.2" fill="none" stroke="#000" stroke-width="0.85" stroke-dasharray="1.5 0.85"/>
<circle cx="554.24" cy="220.91" r="3.2" fill="none" stroke="#000" stroke-width="0.85" stroke-dasharray="1.5 0.85"/>
<circle cx="583.3" cy="225.58" r="3.2" fill="none" stroke="#000" stroke-width="0.85" stroke-dasharray="1.5 0.85"/>
<circle cx="438" cy="182.84" r="3.2" fill="#000"/>
<circle cx="467.06" cy="200.32" r="3.2" fill="#000"/>
<circle cx="496.12" cy="201.1" r="3.2" fill="#000"/>
<circle cx="525.18" cy="215.86" r="3.2" fill="#000"/>
<circle cx="554.24" cy="227.13" r="3.2" fill="#000"/>
<circle cx="583.3" cy="228.68" r="3.2" fill="#000"/>
<rect x="434.96" y="130.46" width="6.08" height="6.08" fill="none" stroke="#000" stroke-width="0.85"/>
<rect x="464.02" y="165.82" width="6.08" height="6.08" fill="none" stroke="#000" stroke-width="0.85"/>
<rect x="493.08" y="164.26" width="6.08" height="6.08" fill="none" stroke="#000" stroke-width="0.85"/>
<rect x="522.14" y="193.01" width="6.08" height="6.08" fill="none" stroke="#000" stroke-width="0.85"/>
<rect x="551.2" y="208.94" width="6.08" height="6.08" fill="none" stroke="#000" stroke-width="0.85"/>
<rect x="580.26" y="219.82" width="6.08" height="6.08" fill="none" stroke="#000" stroke-width="0.85"/>
<rect x="434.96" y="159.21" width="6.08" height="6.08" fill="#000"/>
<rect x="464.02" y="163.48" width="6.08" height="6.08" fill="#000"/>
<rect x="493.08" y="172.81" width="6.08" height="6.08" fill="#000"/>
<rect x="522.14" y="187.57" width="6.08" height="6.08" fill="#000"/>
<polygon points="438,141.73 442.31,149.2 433.69,149.2" fill="none" stroke="#000" stroke-width="0.85" stroke-linejoin="miter"/>
<polygon points="467.06,161.55 471.37,169.01 462.75,169.01" fill="none" stroke="#000" stroke-width="0.85" stroke-linejoin="miter"/>
<polygon points="496.12,173.59 500.43,181.06 491.81,181.06" fill="none" stroke="#000" stroke-width="0.85" stroke-linejoin="miter"/>
<polygon points="525.18,190.3 529.49,197.76 520.87,197.76" fill="none" stroke="#000" stroke-width="0.85" stroke-linejoin="miter"/>
<polygon points="554.24,208.17 558.55,215.63 549.93,215.63" fill="none" stroke="#000" stroke-width="0.85" stroke-linejoin="miter"/>
<polygon points="583.3,218.66 587.61,226.12 578.99,226.12" fill="none" stroke="#000" stroke-width="0.85" stroke-linejoin="miter"/>
<polygon points="438,49.12 442.31,41.66 433.69,41.66" fill="none" stroke="#000" stroke-width="0.85" stroke-linejoin="miter"/>
<polygon points="467.06,62.33 471.37,54.87 462.75,54.87" fill="none" stroke="#000" stroke-width="0.85" stroke-linejoin="miter"/>
<polygon points="496.12,58.06 500.43,50.59 491.81,50.59" fill="none" stroke="#000" stroke-width="0.85" stroke-linejoin="miter"/>
<polygon points="525.18,100.02 529.49,92.55 520.87,92.55" fill="none" stroke="#000" stroke-width="0.85" stroke-linejoin="miter"/>
<polygon points="554.24,138.09 558.55,130.62 549.93,130.62" fill="none" stroke="#000" stroke-width="0.85" stroke-linejoin="miter"/>
<polygon points="583.3,169.56 587.61,162.09 578.99,162.09" fill="none" stroke="#000" stroke-width="0.85" stroke-linejoin="miter"/>
<polygon points="438,207.39 442.31,214.86 433.69,214.86" fill="#000"/>
<polygon points="467.06,209.72 471.37,217.19 462.75,217.19" fill="#000"/>
<polygon points="496.12,209.72 500.43,217.19 491.81,217.19" fill="#000"/>
<polygon points="525.18,205.84 529.49,213.3 520.87,213.3" fill="#000"/>
<polygon points="438,85.46 442.52,89.99 438,94.51 433.48,89.99" fill="none" stroke="#000" stroke-width="0.85"/>
<path d="M438 85.46V94.51M433.48 89.99H442.52" stroke="#000" stroke-width="0.64" fill="none"/>
<polygon points="467.06,89.35 471.58,93.87 467.06,98.4 462.54,93.87" fill="none" stroke="#000" stroke-width="0.85"/>
<path d="M467.06 89.35V98.4M462.54 93.87H471.58" stroke="#000" stroke-width="0.64" fill="none"/>
<polygon points="496.12,85.85 500.64,90.38 496.12,94.9 491.6,90.38" fill="none" stroke="#000" stroke-width="0.85"/>
<path d="M496.12 85.85V94.9M491.6 90.38H500.64" stroke="#000" stroke-width="0.64" fill="none"/>
<polygon points="525.18,93.23 529.7,97.76 525.18,102.28 520.66,97.76" fill="none" stroke="#000" stroke-width="0.85"/>
<path d="M525.18 93.23V102.28M520.66 97.76H529.7" stroke="#000" stroke-width="0.64" fill="none"/>
<polygon points="554.24,143.35 558.76,147.88 554.24,152.4 549.72,147.88" fill="none" stroke="#000" stroke-width="0.85"/>
<path d="M554.24 143.35V152.4M549.72 147.88H558.76" stroke="#000" stroke-width="0.64" fill="none"/>
<polygon points="583.3,158.5 587.82,163.03 583.3,167.55 578.78,163.03" fill="none" stroke="#000" stroke-width="0.85"/>
<path d="M583.3 158.5V167.55M578.78 163.03H587.82" stroke="#000" stroke-width="0.64" fill="none"/>
<polygon points="438,151.67 441.2,154.87 438,158.07 434.8,154.87" fill="#000"/>
<polygon points="467.06,157.89 470.26,161.09 467.06,164.28 463.86,161.09" fill="#000"/>
<polygon points="496.12,155.94 499.32,159.14 496.12,162.34 492.92,159.14" fill="#000"/>
<polygon points="525.18,151.28 528.38,154.48 525.18,157.68 521.98,154.48" fill="#000"/>
<polygon points="554.24,164.49 557.44,167.69 554.24,170.89 551.04,167.69" fill="#000"/>
<polygon points="583.3,158.27 586.5,161.47 583.3,164.67 580.1,161.47" fill="#000"/>
<polygon points="438,118.61 442.01,122.62 438,126.63 433.99,122.62" fill="none" stroke="#000" stroke-width="0.85"/>
<polygon points="467.06,108.12 471.07,112.13 467.06,116.14 463.05,112.13" fill="none" stroke="#000" stroke-width="0.85"/>
<polygon points="496.12,107.35 500.13,111.36 496.12,115.37 492.11,111.36" fill="none" stroke="#000" stroke-width="0.85"/>
<polygon points="525.18,116.67 529.19,120.68 525.18,124.69 521.17,120.68" fill="none" stroke="#000" stroke-width="0.85"/>
<polygon points="554.24,168.34 558.25,172.35 554.24,176.36 550.23,172.35" fill="none" stroke="#000" stroke-width="0.85"/>
<polygon points="583.3,179.22 587.31,183.23 583.3,187.24 579.29,183.23" fill="none" stroke="#000" stroke-width="0.85"/>
<text transform="translate(619 47.4) scale(1 1.08)" font-size="9.3" text-anchor="start" fill="#000" color="#000" font-style="italic">Patient</text>
<circle cx="626.1" cy="55.5" r="2.5" fill="none" stroke="#000" stroke-width="0.8"/>
<text transform="translate(634 58.7) scale(1 1.08)" font-size="9.15" text-anchor="start" fill="#000" color="#000">AMC002</text>
<circle cx="626.1" cy="66.67" r="2.5" fill="#000"/>
<text transform="translate(634 69.87) scale(1 1.08)" font-size="9.15" text-anchor="start" fill="#000" color="#000">AMC003</text>
<rect x="623.73" y="75.47" width="4.75" height="4.75" fill="none" stroke="#000" stroke-width="0.8"/>
<text transform="translate(634 81.04) scale(1 1.08)" font-size="9.15" text-anchor="start" fill="#000" color="#000">AMC004</text>
<rect x="623.73" y="86.63" width="4.75" height="4.75" fill="#000"/>
<text transform="translate(634 92.21) scale(1 1.08)" font-size="9.15" text-anchor="start" fill="#000" color="#000">AMC005</text>
<polygon points="626.1,96.29 629.47,102.12 622.73,102.12" fill="none" stroke="#000" stroke-width="0.8" stroke-linejoin="miter"/>
<text transform="translate(634 103.38) scale(1 1.08)" font-size="9.15" text-anchor="start" fill="#000" color="#000">AMC006</text>
<polygon points="626.1,115.24 629.47,109.41 622.73,109.41" fill="none" stroke="#000" stroke-width="0.8" stroke-linejoin="miter"/>
<text transform="translate(634 114.55) scale(1 1.08)" font-size="9.15" text-anchor="start" fill="#000" color="#000">AMC007</text>
<polygon points="626.1,118.63 629.47,124.46 622.73,124.46" fill="#000"/>
<text transform="translate(634 125.72) scale(1 1.08)" font-size="9.15" text-anchor="start" fill="#000" color="#000">AMC008</text>
<polygon points="626.1,130.16 629.63,133.69 626.1,137.22 622.57,133.69" fill="none" stroke="#000" stroke-width="0.8"/>
<path d="M626.1 130.16V137.22M622.57 133.69H629.63" stroke="#000" stroke-width="0.6" fill="none"/>
<text transform="translate(634 136.89) scale(1 1.08)" font-size="9.15" text-anchor="start" fill="#000" color="#000">AMC009</text>
<polygon points="626.1,142.36 628.6,144.86 626.1,147.36 623.6,144.86" fill="#000"/>
<text transform="translate(634 148.06) scale(1 1.08)" font-size="9.15" text-anchor="start" fill="#000" color="#000">AMC010</text>
<polygon points="626.1,152.9 629.23,156.03 626.1,159.16 622.97,156.03" fill="none" stroke="#000" stroke-width="0.8"/>
<text transform="translate(634 159.23) scale(1 1.08)" font-size="9.15" text-anchor="start" fill="#000" color="#000">AMC011</text>
<text transform="translate(619.5 185) scale(1 1.08)" font-size="9.3" text-anchor="start" fill="#000" color="#000" font-style="italic">Dose level</text>
<line x1="620.6" y1="194.4" x2="628.9" y2="194.4" stroke="#000" stroke-width="0.85" stroke-linecap="butt" stroke-dasharray="1.04 2.16"/>
<text transform="translate(634 197.6) scale(1 1.08)" font-size="9.15" text-anchor="start" fill="#000" color="#000">Dose level 1</text>
<line x1="620.6" y1="205.6" x2="628.9" y2="205.6" stroke="#000" stroke-width="0.85" stroke-linecap="butt" stroke-dasharray="1.52 1.68 4.72 1.68"/>
<text transform="translate(634 208.8) scale(1 1.08)" font-size="9.15" text-anchor="start" fill="#000" color="#000">Dose level 2</text>
<line x1="620.6" y1="216.8" x2="628.9" y2="216.8" stroke="#000" stroke-width="0.85" stroke-linecap="butt"/>
<text transform="translate(634 220) scale(1 1.08)" font-size="9.15" text-anchor="start" fill="#000" color="#000">Dose level 3</text>
</svg></body></html>
